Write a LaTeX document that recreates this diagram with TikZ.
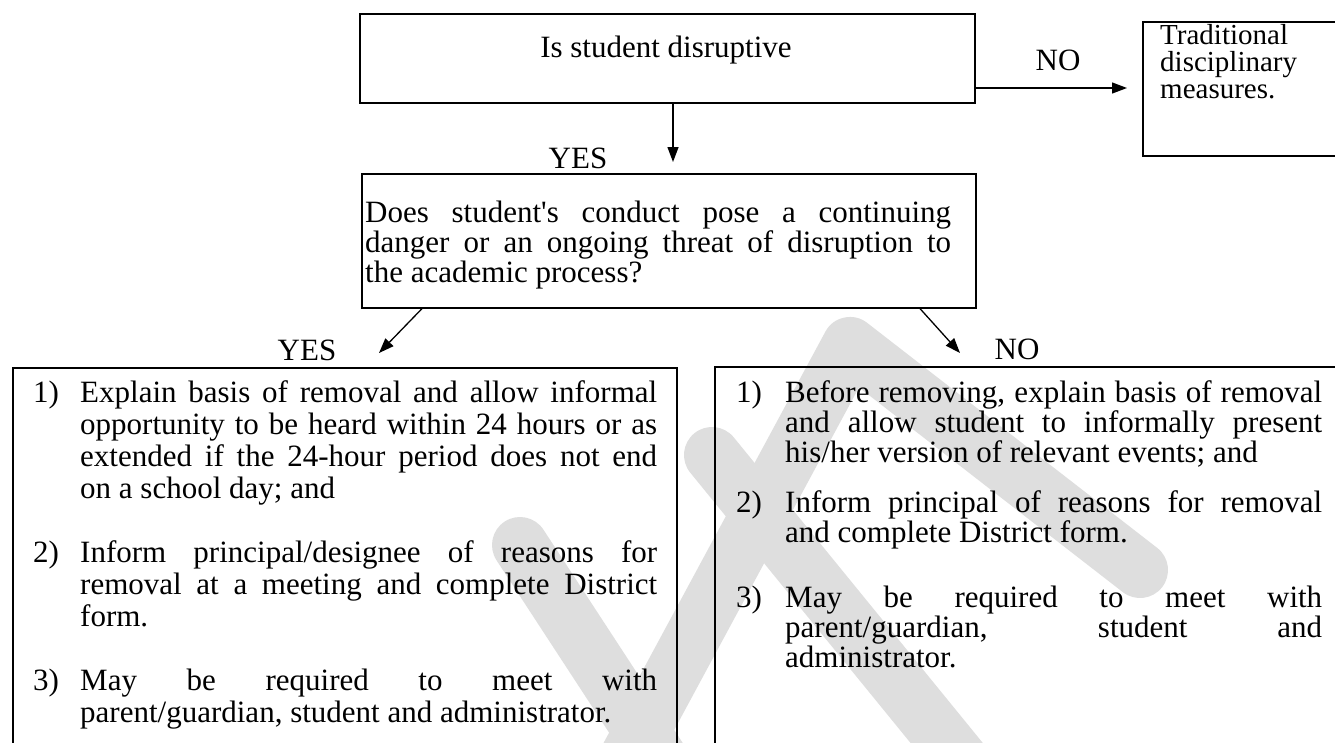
\documentclass[tikz,border=0pt]{standalone}
\usepackage{fontspec}
\setmainfont{Liberation Serif}[Ligatures=TeXOff]
\usetikzlibrary{arrows.meta}
\newcommand{\numitem}[3]{\hangindent=#1\hangafter=1\noindent\makebox[#1][l]{#2}#3\par}
\newcommand{\parsetup}{\parindent=0pt\tolerance=10000\hyphenpenalty=10000\exhyphenpenalty=10000\rightskip=0pt\leftskip=0pt}
\tikzset{
  boxline/.style={draw=black, line width=1.6pt, rectangle, inner sep=0pt, anchor=north west},
  conn/.style={draw=black, line width=1.3pt, -{Triangle[length=15pt,width=11pt]}},
  txt/.style={inner sep=0pt, font=\fontsize{31}{32}\selectfont},
  lbl/.style={txt, anchor=base},
  wmark/.style={draw=black!13, line width=56pt, line cap=round, line join=round},
}
\begin{document}
\begin{tikzpicture}[x=1pt,y=-1pt]
\useasboundingbox (0,0) rectangle (1335,742);
\fill[white] (0,0) rectangle (1335,742);
\clip (0,0) rectangle (1335,742);

% watermark (light grey strokes behind the chart)
\draw[wmark] (610,790) -- (850,345) -- (1140,570);
\draw[wmark] (712,455) -- (985,790);
\draw[wmark] (520,545) -- (680,790);

% boxes
\node[boxline, minimum width=615pt, minimum height=89pt] (q1) at (359,13) {};
\node[boxline, minimum width=614pt, minimum height=134pt] (q2) at (361,173) {};
\node[boxline, minimum width=220pt, minimum height=134pt] (trad) at (1142,21) {};
\node[boxline, minimum width=664pt, minimum height=420pt] (yesbox) at (12,367) {};
\node[boxline, minimum width=640pt, minimum height=420pt] (nobox) at (714,366) {};

% texts
\node[lbl] (q1t) at (666,57) {Is student disruptive};
\node[txt, anchor=base west, font=\fontsize{29}{27}\selectfont] (tradt) at (1160,44)
  {\vtop{\hsize=170pt\parsetup\baselineskip=27pt Traditional\par disciplinary\par measures.\par}};
\node[txt, anchor=base west] (q2t) at (365,222)
  {\vtop{\hsize=586pt\parsetup\baselineskip=30pt
   Does student's conduct pose a continuing\linebreak danger or an ongoing threat of disruption to\linebreak the academic process?\par}};
\node[txt, anchor=base west] (yest) at (33,402)
  {\vtop{\hsize=624pt\parsetup\baselineskip=32pt
   \numitem{47pt}{1)}{Explain basis of removal and allow informal\linebreak opportunity to be heard within 24 hours or as\linebreak extended if the 24-hour period does not end\linebreak on a school day; and}
   \vskip 32pt
   \numitem{47pt}{2)}{Inform principal/designee of reasons for\linebreak removal at a meeting and complete District\linebreak form.}
   \vskip 32pt
   \numitem{47pt}{3)}{May be required to meet with\linebreak parent/guardian, student and administrator.}}};
\node[txt, anchor=base west] (not) at (736,402)
  {\vtop{\hsize=586pt\parsetup\baselineskip=30pt
   \numitem{49pt}{1)}{Before removing, explain basis of removal\linebreak and allow student to informally present\linebreak his/her version of relevant events; and}
   \vskip 20pt
   \numitem{49pt}{2)}{Inform principal of reasons for removal\linebreak and complete District form.}
   \vskip 35pt
   \numitem{49pt}{3)}{May be required to meet with\linebreak parent/guardian, student and\linebreak administrator.}}};

% labels
\node[lbl] (yes1) at (578,168) {YES};
\node[lbl] (no1) at (1058,70) {NO};
\node[lbl] (yes2) at (307,360) {YES};
\node[lbl] (no2) at (1017,359) {NO};

% connectors
\coordinate (t1) at (673,162);
\coordinate (t2) at (1127,88);
\coordinate (s3) at (422,0);
\coordinate (t3) at (379,353);
\coordinate (s4) at (920,0);
\coordinate (t4) at (960,353);
\draw[conn] (q1.south -| t1) -- (t1);
\draw[conn] (q1.east |- t2) -- (t2);
\draw[conn] (q2.south -| s3) -- (t3);
\draw[conn] (q2.south -| s4) -- (t4);
\end{tikzpicture}
\end{document}
